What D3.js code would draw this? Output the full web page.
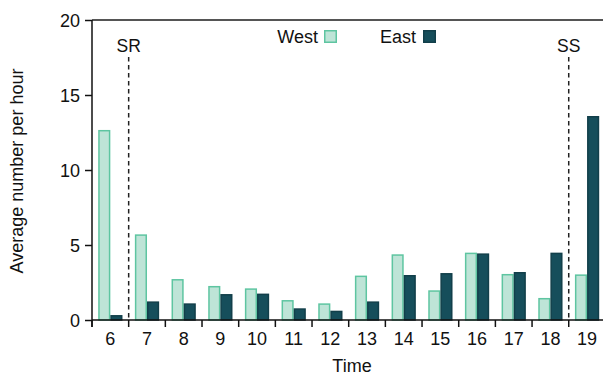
<!DOCTYPE html>
<html><head><meta charset="utf-8">
<script src="https://cdn.jsdelivr.net/npm/d3@7"></script>
<style>
body{margin:0;background:#fff;}
text{font-family:"Liberation Sans",Arial,Helvetica,sans-serif;fill:#111;}
</style></head>
<body><svg id="c" width="603" height="376"></svg>
<script>
const hours = ["6","7","8","9","10","11","12","13","14","15","16","17","18","19"];
const seriesNames = ["West","East"];
const westValues = [12.67,5.71,2.73,2.27,2.11,1.33,1.11,2.96,4.38,1.98,4.49,3.07,1.47,3.04];
const eastValues = [0.33,1.24,1.11,1.73,1.76,0.78,0.62,1.24,3.0,3.13,4.44,3.2,4.49,13.6];
const yTicks = [0,5,10,15,20];
const markers = [{label:"SR", after:"6"},{label:"SS", after:"18"}];

const svg = d3.select("#c");
const m = {left:92, top:20, right:605.4, bottom:320};
const x0 = d3.scaleBand().domain(hours).range([m.left, m.right]).padding(0);
const bw = x0.bandwidth();
const x1 = d3.scaleBand().domain(seriesNames).range([6.2, bw-6.2]).padding(0);
const y = d3.scaleLinear().domain([0,20]).range([m.bottom, m.top]);

const colors = {West:{fill:"#bee4d7", stroke:"#5ec5a1"}, East:{fill:"#164e5b", stroke:"#123f4a"}};

const data = hours.map((h,i)=>({h, West:westValues[i], East:eastValues[i]}));

// bars
const g = svg.append("g");
data.forEach(d=>{
  seriesNames.forEach(s=>{
    g.append("rect")
      .attr("x", x0(d.h)+x1(s)+0.75)
      .attr("y", y(d[s])+0.75)
      .attr("width", x1.bandwidth()-1.5)
      .attr("height", Math.max(0, y(0)-y(d[s])-0.75))
      .attr("fill", colors[s].fill)
      .attr("stroke", colors[s].stroke)
      .attr("stroke-width", 1.5);
  });
});

// top border
svg.append("line").attr("x1",m.left).attr("x2",603).attr("y1",y(20)).attr("y2",y(20))
  .attr("stroke","#555").attr("stroke-width",2);

// markers
markers.forEach(mk=>{
  const xp = x0(mk.after)+bw;
  svg.append("line").attr("x1",xp).attr("x2",xp).attr("y1",57).attr("y2",m.bottom)
    .attr("stroke","#222").attr("stroke-width",1.5).attr("stroke-dasharray","4.5,3.5");
  svg.append("text").attr("x",xp).attr("y",52).attr("text-anchor","middle")
    .attr("font-size",17.5).text(mk.label);
});

// y axis
const yAxis = svg.append("g").attr("transform",`translate(${m.left},0)`)
  .call(d3.axisLeft(y).tickValues(yTicks).tickSize(7).tickPadding(5).tickFormat(d3.format("d")));
yAxis.selectAll("text").attr("font-size",18).attr("fill","#111").attr("dy","0.35em");
yAxis.selectAll("line").attr("stroke","#111").attr("stroke-width",1.5);
yAxis.select(".domain").attr("stroke","#111").attr("stroke-width",1.5).attr("d",`M0,${m.bottom+7}V${m.top}`);

// x axis
const xa = svg.append("g").attr("transform",`translate(0,${m.bottom})`);
xa.append("line").attr("x1",m.left).attr("x2",603).attr("y1",0).attr("y2",0)
  .attr("stroke","#111").attr("stroke-width",1.5);
hours.forEach(h=>{
  xa.append("line").attr("x1",x0(h)).attr("x2",x0(h)).attr("y1",0).attr("y2",7)
    .attr("stroke","#111").attr("stroke-width",1.5);
  xa.append("text").attr("x",x0(h)+bw/2).attr("y",25).attr("text-anchor","middle")
    .attr("font-size",18).text(h);
});

// axis titles
svg.append("text").attr("x",352).attr("y",372).attr("text-anchor","middle").attr("font-size",18).text("Time");
svg.append("text").attr("transform","translate(23,171) rotate(-90)").attr("text-anchor","middle")
  .attr("font-size",18).text("Average number per hour");

// legend
const leg = [{s:"West", tx:318, rx:324},{s:"East", tx:416, rx:423}];
leg.forEach(l=>{
  svg.append("text").attr("x",l.tx).attr("y",43).attr("text-anchor","end").attr("font-size",18).text(l.s);
  svg.append("rect").attr("x",l.rx+0.75).attr("y",30.75).attr("width",11.5).attr("height",11.5)
    .attr("fill",colors[l.s].fill).attr("stroke",colors[l.s].stroke).attr("stroke-width",1.5);
});
</script></body></html>
